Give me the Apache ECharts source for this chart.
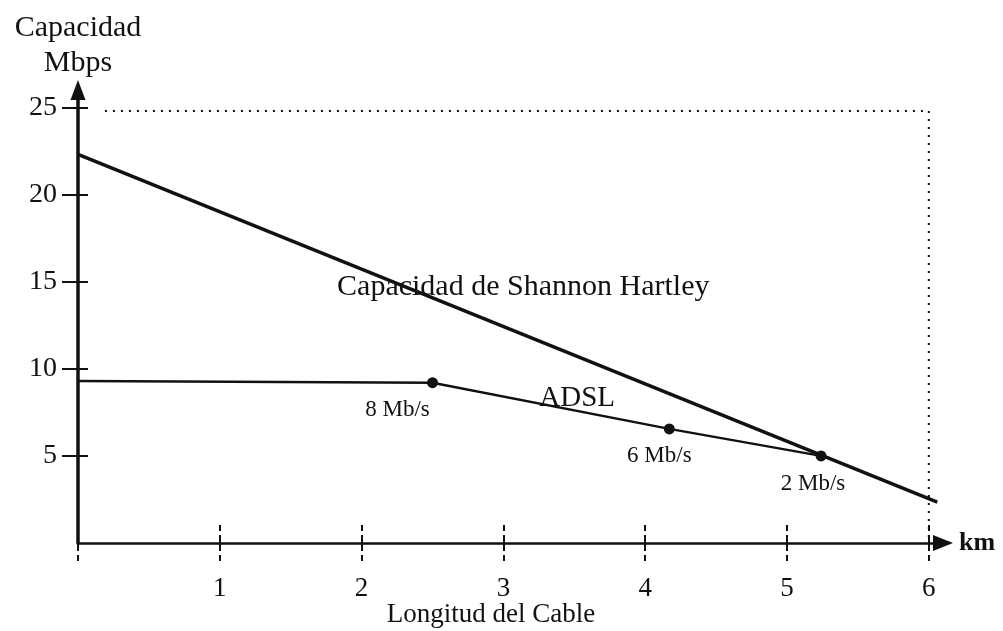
<!DOCTYPE html>
<html>
<head>
<meta charset="utf-8">
<script src="https://cdn.jsdelivr.net/npm/echarts@6/dist/echarts.min.js"></script>
<style>
  html, body { margin: 0; padding: 0; background: #ffffff; }
  #chart { width: 1003px; height: 631px; }
</style>
</head>
<body>
<div id="chart"></div>
<script>
  // valores
  let xTicks = [0, 1, 2, 3, 4, 5, 6];
  let yTicks = [5, 10, 15, 20, 25];
  let shannon = [[0, 22.3], [6.06, 2.35]];
  let adsl = [[0, 9.3], [2.5, 9.2], [4.17, 6.55], [5.24, 5.0]];
  let adslLabels = ['', '8 Mb/s', '6 Mb/s', '2 Mb/s'];
  let limite = [[0.19, 24.8], [6.0, 24.8], [6.0, 0]];
  let notas = [
    {name: 'Capacidad de Shannon Hartley', value: [3.14, 14.7]},
    {name: 'ADSL', value: [3.52, 8.3]}
  ];

  let font = '"Liberation Serif", "DejaVu Serif", serif';
  let ink = '#111111';
  let labelOffsets = [[0, 0], [-35, 27], [-10, 27], [-8, 28]];

  let myChart = echarts.init(document.getElementById('chart'));

  myChart.setOption({
    backgroundColor: '#ffffff',
    animation: false,
    textStyle: {fontFamily: font, color: ink},
    title: {
      text: 'Longitud del Cable',
      left: 486,
      top: 596,
      textAlign: 'center',
      textStyle: {fontFamily: font, fontSize: 27, fontWeight: 'normal', color: ink}
    },
    grid: {left: 78, right: 60, top: 90, bottom: 88, containLabel: false},
    xAxis: [
      {
        type: 'value', min: 0, max: 6.1,
        name: 'km', nameLocation: 'end', nameGap: 16,
        nameTextStyle: {fontFamily: font, fontSize: 26, fontWeight: 'bold', color: ink},
        axisLine: {show: true, symbol: ['none', 'triangle'], symbolSize: [16, 20], lineStyle: {color: ink, width: 2.5}},
        axisTick: {show: true, inside: false, length: 18, customValues: xTicks, lineStyle: {color: ink, width: 2, type: 'dashed'}},
        axisLabel: {show: true, margin: 32, fontFamily: font, fontSize: 27, color: ink, customValues: [1, 2, 3, 4, 5, 6]},
        splitLine: {show: false}
      },
      {
        type: 'value', min: 0, max: 6.1, position: 'bottom',
        axisLine: {show: false},
        axisTick: {show: true, inside: true, length: 18, customValues: xTicks, lineStyle: {color: ink, width: 2, type: 'dashed'}},
        axisLabel: {show: false},
        splitLine: {show: false}
      }
    ],
    yAxis: [
      {
        type: 'value', min: 0, max: 26,
        name: 'Capacidad\nMbps', nameLocation: 'end', nameGap: 9,
        nameTextStyle: {fontFamily: font, fontSize: 30, color: ink, lineHeight: 35, align: 'center'},
        axisLine: {show: true, symbol: ['none', 'triangle'], symbolSize: [15, 20], lineStyle: {color: ink, width: 3.5}},
        axisTick: {show: true, inside: false, length: 16, customValues: yTicks, lineStyle: {color: ink, width: 2}},
        axisLabel: {show: true, margin: 21, fontFamily: font, fontSize: 28, color: ink, customValues: yTicks},
        splitLine: {show: false}
      },
      {
        type: 'value', min: 0, max: 26, position: 'left',
        axisLine: {show: false},
        axisTick: {show: true, inside: true, length: 10, customValues: yTicks, lineStyle: {color: ink, width: 2}},
        axisLabel: {show: false},
        splitLine: {show: false}
      }
    ],
    series: [
      {
        name: 'limite',
        type: 'line',
        data: limite,
        symbol: 'none',
        lineStyle: {color: ink, width: 2, type: [2, 6]},
        z: 1
      },
      {
        name: 'Shannon',
        type: 'line',
        data: shannon,
        symbol: 'none',
        lineStyle: {color: ink, width: 3.5},
        z: 3
      },
      {
        name: 'ADSL',
        type: 'line',
        data: adsl.map(function (p, i) {
          return {
            value: p,
            symbol: i === 0 ? 'none' : 'circle',
            label: {
              show: i > 0,
              position: 'inside',
              offset: labelOffsets[i],
              formatter: adslLabels[i],
              fontFamily: font,
              fontSize: 23,
              color: ink
            }
          };
        }),
        symbolSize: 11,
        itemStyle: {color: ink},
        lineStyle: {color: ink, width: 2.5},
        z: 4
      },
      {
        name: 'notas',
        type: 'scatter',
        data: notas.map(function (n, i) {
          return {name: n.name, value: n.value, label: {fontSize: i === 0 ? 30 : 29}};
        }),
        symbolSize: 0,
        itemStyle: {opacity: 1, color: ink},
        label: {
          show: true,
          position: 'inside',
          formatter: '{b}',
          fontFamily: font,
          color: ink
        },
        z: 2
      }
    ]
  });
</script>
</body>
</html>
